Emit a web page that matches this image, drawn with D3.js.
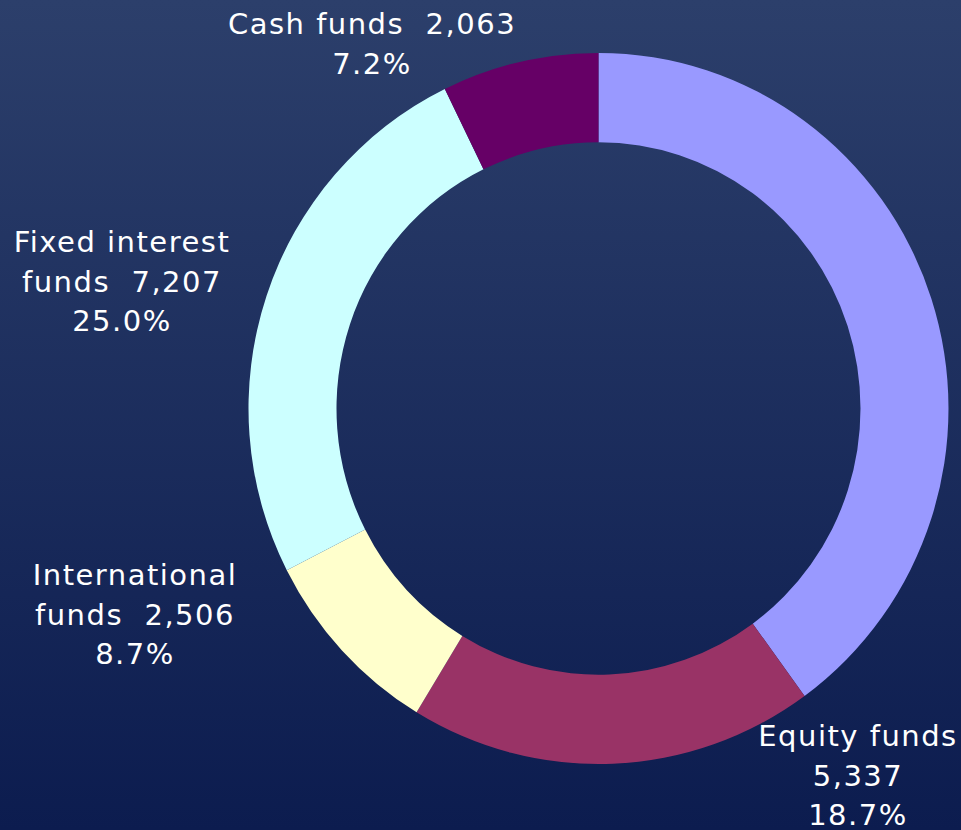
<!DOCTYPE html>
<html>
<head>
<meta charset="utf-8">
<script src="https://cdn.jsdelivr.net/npm/d3@7"></script>
<style>
  html, body { margin: 0; padding: 0; overflow: hidden; }
  svg { display: block; }
  .lbl { font-family: "DejaVu Sans", Verdana, sans-serif; font-size: 29px; fill: #ffffff; letter-spacing: 1.5px; white-space: pre; }
</style>
</head>
<body>
<script>
const width = 961
const height = 830

// data, clockwise from 12 o'clock
const names = ['', 'Equity funds', 'International funds', 'Fixed interest funds', 'Cash funds']
const values = [11400, 5337, 2506, 7207, 2063]
const percents = ['', '18.7%', '8.7%', '25.0%', '7.2%']
const colors = ['#9999ff', '#993366', '#ffffcc', '#ccffff', '#660066']

// label placement (first = words of the name on line 1, valueFirst = value stays on line 1)
const labelLayout = [
  null,
  { x: 858, y: 746, first: 2, valueFirst: false },
  { x: 135, y: 585, first: 1, valueFirst: false },
  { x: 122, y: 252, first: 2, valueFirst: false },
  { x: 372, y: 34, first: 2, valueFirst: true }
]

const fmt = d3.format(',')

const svg = d3.select('body')
        .append('svg')
        .attr('width', width)
        .attr('height', height)

const grad = svg.append('defs')
        .append('linearGradient')
        .attr('id', 'bg')
        .attr('x1', 0).attr('y1', 0)
        .attr('x2', 0).attr('y2', 1)
grad.append('stop').attr('offset', '0%').attr('stop-color', '#2c3f6b')
grad.append('stop').attr('offset', '100%').attr('stop-color', '#0c1c4f')

svg.append('rect')
        .attr('width', width)
        .attr('height', height)
        .attr('fill', 'url(#bg)')

// donut
const pie = d3.pie().sort(null).value(d => d)
const arc = d3.arc().innerRadius(262).outerRadius(350)

const ring = svg.append('g')
        .attr('transform', 'translate(598.5, 408.5) scale(1, 1.016)')

ring.selectAll('path')
        .data(pie(values))
        .join('path')
        .attr('d', arc)
        .attr('fill', (d, i) => colors[i])

// labels
const labels = svg.append('g')

names.forEach((name, i) => {
  const l = labelLayout[i]
  if (!l) return
  const words = name.split(' ')
  let lines
  if (l.valueFirst) {
    lines = [words.join(' ') + '  ' + fmt(values[i]), percents[i]]
  } else {
    const rest = words.slice(l.first).join(' ')
    lines = [words.slice(0, l.first).join(' '),
             rest ? rest + '  ' + fmt(values[i]) : fmt(values[i]),
             percents[i]]
  }
  const t = labels.append('text')
        .attr('class', 'lbl')
        .attr('text-anchor', 'middle')
        .attr('x', l.x)
        .attr('y', l.y)
  lines.forEach((s, j) => {
    t.append('tspan')
        .attr('x', l.x)
        .attr('dy', j === 0 ? 0 : 39.5)
        .text(s)
  })
})
</script>
</body>
</html>
